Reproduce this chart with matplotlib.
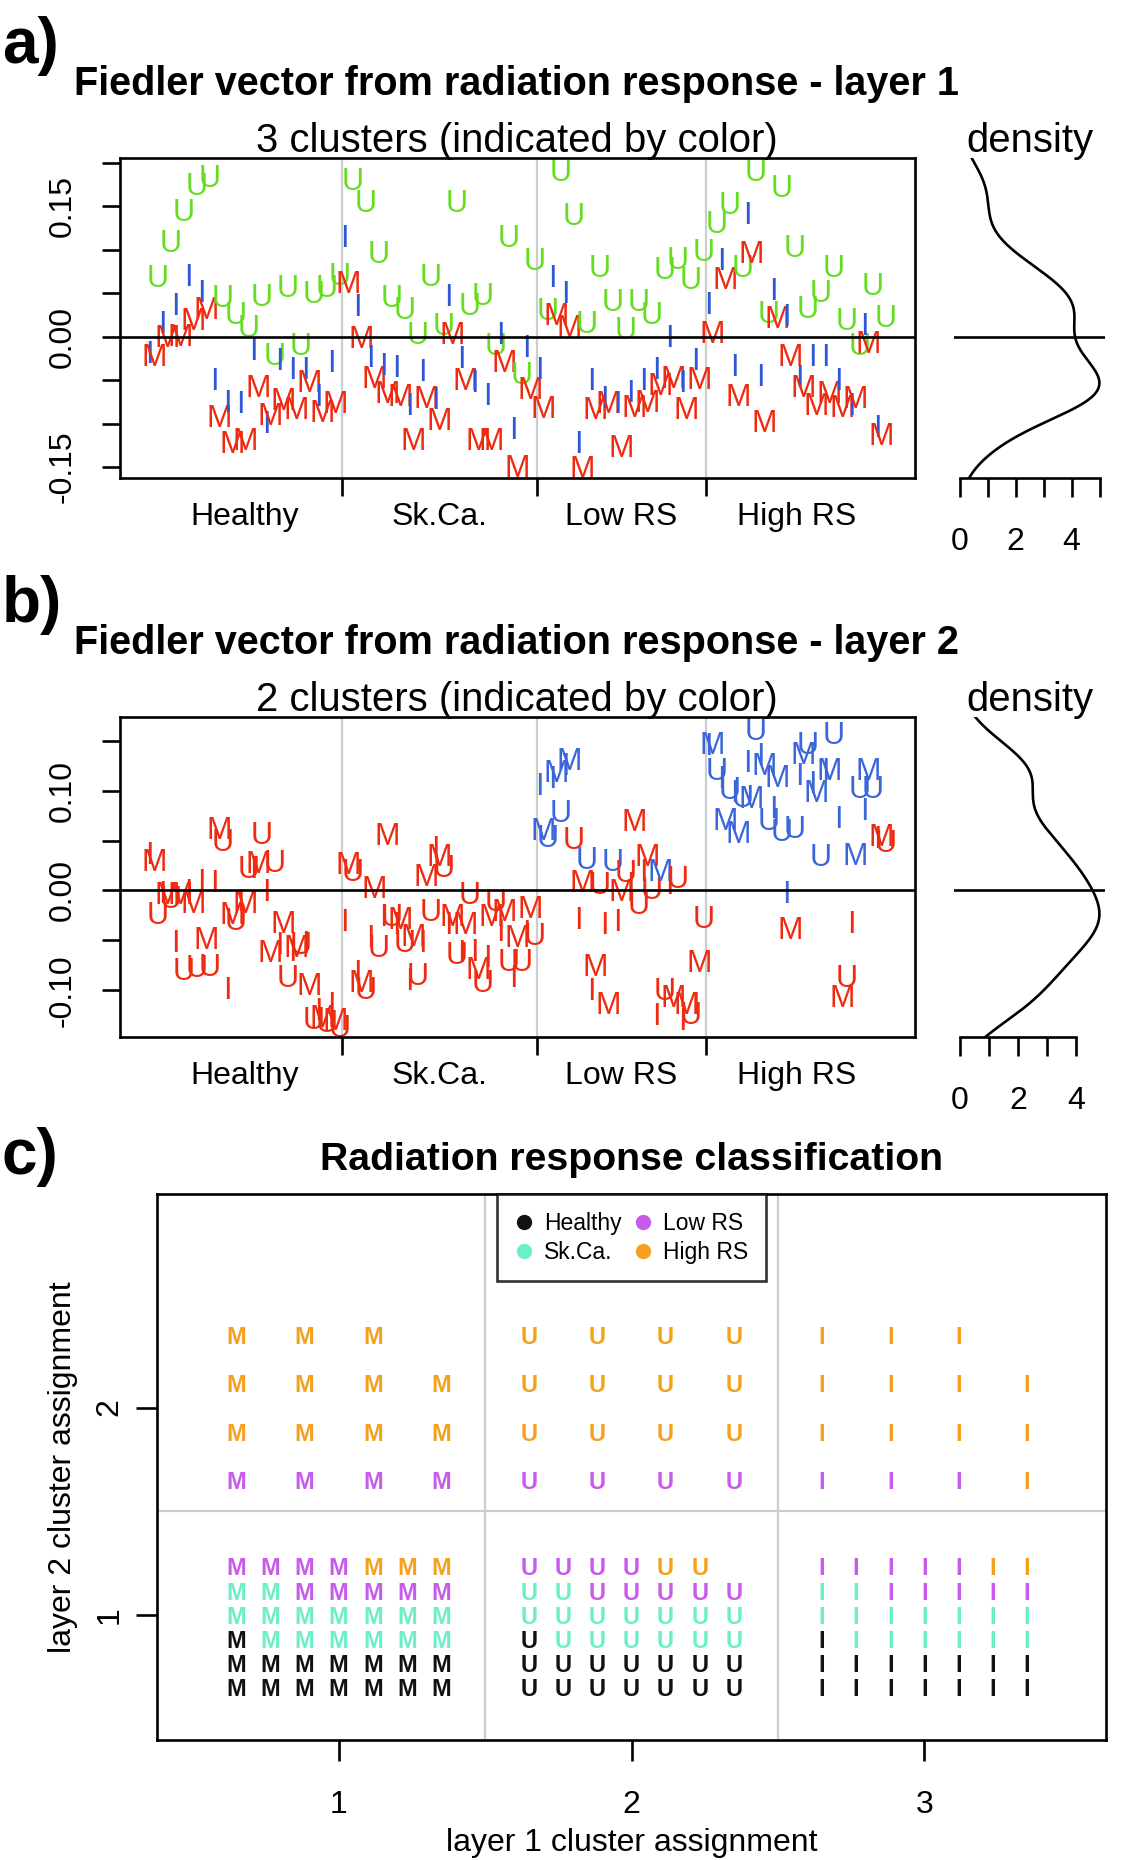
import numpy as np
import matplotlib
matplotlib.use("Agg")
import matplotlib.pyplot as plt
from matplotlib.lines import Line2D

plt.rcParams["font.family"] = ["Liberation Sans", "DejaVu Sans"]

# ---------------------------------------------------------------------------
# Data
# Samples are ordered by group, then individual, then treatment (I, M, U).
# ---------------------------------------------------------------------------

GROUPS = ["Healthy", "Sk.Ca.", "Low RS", "High RS"]
TREATMENTS = ["I", "M", "U"]

# Fiedler vector, layer 1
l1_healthy_i = [-0.017, 0.017, 0.038, 0.072, 0.053, -0.048, -0.074, -0.075, -0.014, -0.098, -0.025, -0.036, -0.035, -0.067, -0.027]
l1_healthy_m = [-0.020, 0.001, 0.002, 0.021, 0.034, -0.091, -0.121, -0.117, -0.056, -0.088, -0.071, -0.081, -0.050, -0.085, -0.075]
l1_healthy_u = [0.070, 0.111, 0.146, 0.176, 0.186, 0.047, 0.028, 0.013, 0.048, -0.019, 0.059, -0.008, 0.052, 0.059, 0.073]
l1_skca_i = [0.116, 0.037, -0.022, -0.031, -0.033, -0.077, -0.038, -0.070, 0.049, -0.023, -0.050, -0.065, 0.005, -0.105, -0.010]
l1_skca_m = [0.063, 0.000, -0.046, -0.063, -0.067, -0.117, -0.069, -0.094, 0.005, -0.048, -0.117, -0.117, -0.027, -0.148, -0.059]
l1_skca_u = [0.182, 0.157, 0.098, 0.047, 0.034, 0.005, 0.071, 0.015, 0.157, 0.038, 0.050, -0.008, 0.117, -0.041, 0.090]
l1_lowrs_i = [-0.036, 0.070, 0.052, -0.121, -0.048, -0.069, -0.075, -0.062, -0.048, -0.036, 0.001, -0.050, -0.025]
l1_lowrs_m = [-0.080, 0.027, 0.013, -0.149, -0.082, -0.075, -0.125, -0.079, -0.073, -0.054, -0.046, -0.082, -0.047]
l1_lowrs_u = [0.033, 0.192, 0.142, 0.017, 0.082, 0.043, 0.010, 0.043, 0.028, 0.080, 0.091, 0.068, 0.100]
l1_highrs_i = [0.039, 0.090, -0.032, 0.143, -0.044, 0.056, 0.026, -0.045, -0.021, -0.021, -0.048, -0.077, 0.015, -0.102]
l1_highrs_m = [0.006, 0.068, -0.066, 0.098, -0.096, 0.023, -0.020, -0.056, -0.077, -0.063, -0.079, -0.069, -0.006, -0.111]
l1_highrs_u = [0.132, 0.155, 0.082, 0.192, 0.029, 0.174, 0.105, 0.035, 0.053, 0.082, 0.021, -0.008, 0.061, 0.024]

# Fiedler vector, layer 2
l2_healthy_i = [0.038, -0.001, -0.050, 0.001, 0.011, 0.010, -0.097, -0.009, 0.024, 0.001, -0.052, -0.059, -0.051, -0.118, -0.112]
l2_healthy_m = [0.031, -0.002, -0.002, -0.011, -0.047, 0.063, -0.022, -0.011, 0.029, -0.060, -0.031, -0.055, -0.093, -0.125, -0.128]
l2_healthy_u = [-0.022, -0.006, -0.078, -0.075, -0.074, 0.051, -0.028, 0.024, 0.058, 0.030, -0.085, -0.052, -0.127, -0.130, -0.135]
l2_skca_i = [-0.029, -0.080, -0.045, -0.024, -0.032, -0.088, -0.050, 0.044, -0.032, -0.060, -0.059, -0.065, -0.039, -0.085, -0.040]
l2_skca_m = [0.028, -0.090, 0.004, 0.057, -0.027, -0.044, 0.016, 0.036, -0.024, -0.032, -0.077, -0.024, -0.019, -0.045, -0.016]
l2_skca_u = [0.021, -0.097, -0.055, -0.024, -0.050, -0.083, -0.019, 0.025, -0.062, -0.002, -0.090, -0.009, -0.069, -0.069, -0.043]
l2_lowrs_i = [0.107, 0.114, 0.127, -0.027, -0.098, -0.032, -0.029, 0.008, 0.021, -0.123, 0.008, -0.128, -0.112]
l2_lowrs_m = [0.062, 0.120, 0.132, 0.010, -0.074, -0.112, 0.001, 0.071, 0.036, 0.021, -0.105, -0.112, -0.070]
l2_lowrs_u = [0.055, 0.080, 0.053, 0.033, 0.008, 0.031, 0.020, -0.012, 0.003, -0.098, 0.014, -0.122, -0.026]
l2_highrs_i = [0.147, 0.114, 0.100, 0.130, 0.137, 0.084, -0.001, 0.117, 0.109, 0.122, 0.074, -0.031, 0.082, 0.054]
l2_highrs_m = [0.148, 0.072, 0.059, 0.094, 0.127, 0.115, -0.037, 0.138, 0.100, 0.122, -0.105, 0.037, 0.122, 0.056]
l2_highrs_u = [0.122, 0.103, 0.095, 0.162, 0.072, 0.061, 0.064, 0.148, 0.036, 0.158, -0.085, 0.104, 0.104, 0.050]

# Layer-2 cluster membership (2 = second cluster). Healthy and Sk.Ca. are all cluster 1.
l2cl_lowrs_i = [2, 2, 2, 1, 1, 1, 1, 1, 1, 1, 1, 1, 1]
l2cl_lowrs_m = [2, 2, 2, 1, 1, 1, 1, 1, 1, 2, 1, 1, 1]
l2cl_lowrs_u = [2, 2, 1, 2, 1, 2, 1, 1, 1, 1, 1, 1, 1]
l2cl_highrs_i = [2, 2, 2, 2, 2, 2, 2, 2, 2, 2, 2, 1, 2, 1]
l2cl_highrs_m = [2, 2, 2, 2, 2, 2, 1, 2, 2, 2, 1, 2, 2, 1]
l2cl_highrs_u = [2, 2, 2, 2, 2, 2, 2, 2, 2, 2, 1, 2, 2, 1]

# Layer-1 clusters coincide with treatment
L1_CLUSTER = {"M": 1, "U": 2, "I": 3}

L1_TICKS = [-0.15, -0.10, -0.05, 0.0, 0.05, 0.10, 0.15, 0.20]
L1_TICK_LABELS = ["-0.15", "", "", "0.00", "", "", "0.15", ""]
L2_TICKS = [-0.10, -0.05, 0.0, 0.05, 0.10, 0.15]
L2_TICK_LABELS = ["-0.10", "", "0.00", "", "0.10", ""]

L1_COLORS = {"I": "#2f56d6", "M": "#ee2a10", "U": "#66dd22"}
L2_COLORS = {1: "#ee2a10", 2: "#3a66da"}
GROUP_COLORS = ["#111111", "#6cefc9", "#c85bea", "#f3a11e"]
GREY = "#c9cfcf"
LW = 1.9


# ---------------------------------------------------------------------------
# Assemble per-sample arrays
# ---------------------------------------------------------------------------

def interleave(*lists):
    out = []
    for trip in zip(*lists):
        out.extend(trip)
    return out


l1_sets = [(l1_healthy_i, l1_healthy_m, l1_healthy_u), (l1_skca_i, l1_skca_m, l1_skca_u),
           (l1_lowrs_i, l1_lowrs_m, l1_lowrs_u), (l1_highrs_i, l1_highrs_m, l1_highrs_u)]
l2_sets = [(l2_healthy_i, l2_healthy_m, l2_healthy_u), (l2_skca_i, l2_skca_m, l2_skca_u),
           (l2_lowrs_i, l2_lowrs_m, l2_lowrs_u), (l2_highrs_i, l2_highrs_m, l2_highrs_u)]
cl_sets = [None, None, (l2cl_lowrs_i, l2cl_lowrs_m, l2cl_lowrs_u),
           (l2cl_highrs_i, l2cl_highrs_m, l2cl_highrs_u)]

vals1, vals2, treat, group, cl2 = [], [], [], [], []
for g, (s1, s2, sc) in enumerate(zip(l1_sets, l2_sets, cl_sets)):
    n_ind = len(s1[0])
    vals1 += interleave(*s1)
    vals2 += interleave(*s2)
    treat += TREATMENTS * n_ind
    group += [g] * (3 * n_ind)
    cl2 += interleave(*sc) if sc is not None else [1] * (3 * n_ind)

vals1 = np.array(vals1)
vals2 = np.array(vals2)
group = np.array(group)
sizes = np.bincount(group)
bounds = np.cumsum(sizes)[:-1] + 0.5
centers = np.cumsum(sizes) - (sizes - 1) / 2.0

# ---------------------------------------------------------------------------
# Figure
# ---------------------------------------------------------------------------

W, H = 1145, 1860
fig = plt.figure(figsize=(W / 100, H / 100), dpi=100)


def axes_px(x0, y0, x1, y1):
    return fig.add_axes([x0 / W, 1 - y1 / H, (x1 - x0) / W, (y1 - y0) / H])


def r_range(v):
    lo, hi = np.min(v), np.max(v)
    pad = 0.04 * (hi - lo)
    return lo - pad, hi + pad


def kde(x, n=512, cut=3):
    # gaussian kernel, bw.nrd0 as in R's density()
    x = np.asarray(x)
    iqr = np.subtract(*np.percentile(x, [75, 25]))
    bw = 0.9 * min(x.std(ddof=1), iqr / 1.34) * len(x) ** -0.2
    grid = np.linspace(x.min() - cut * bw, x.max() + cut * bw, n)
    z = (grid[:, None] - x[None, :]) / bw
    dens = np.exp(-0.5 * z ** 2).sum(axis=1) / (len(x) * bw * np.sqrt(2 * np.pi))
    return grid, dens


def fiedler_panel(top, vals, colors, ticks, tick_labels, letter, title, subtitle):
    ax = axes_px(120, top, 915, top + 320)
    n = len(vals)
    x = np.arange(1, n + 1)
    ax.set_xlim(1 - 0.04 * (n - 1), n + 0.04 * (n - 1))
    ylim = r_range(vals)
    ax.set_ylim(ylim)
    for b in bounds:
        ax.axvline(b, color=GREY, lw=1.6, zorder=0)
    for xi, yi, t, c in zip(x, vals, treat, colors):
        ax.text(xi, yi, t, color=c, fontsize=22, ha="center", va="center_baseline", zorder=2)
    ax.axhline(0, color="black", lw=LW, zorder=3)

    ax.set_xticks(bounds)
    ax.set_xticklabels([])
    ax.set_xticks(centers, minor=True)
    ax.set_xticklabels(GROUPS, minor=True, fontsize=23)
    ax.tick_params(axis="x", which="major", length=13, width=LW)
    ax.tick_params(axis="x", which="minor", length=0, pad=17.5)

    keep = [(t, l) for t, l in zip(ticks, tick_labels) if ylim[0] <= t <= ylim[1]]
    ax.set_yticks([t for t, _ in keep])
    ax.set_yticklabels([l for _, l in keep], rotation=90, va="center", fontsize=23)
    ax.tick_params(axis="y", length=13, width=LW, pad=17.5)
    for s in ax.spines.values():
        s.set_linewidth(LW)

    # density of the same values
    axd = axes_px(954, top, 1105, top + 320)
    grid, dens = kde(vals)
    axd.plot(dens, grid, color="black", lw=LW)
    r = dens.max() - dens.min()
    axd.set_xlim(dens.min() - 0.04 * r, dens.max() + 0.04 * r)
    axd.set_ylim(ylim)
    axd.axhline(0, color="black", lw=LW)
    dticks = np.arange(0, np.floor(dens.max() + 0.04 * r) + 1)
    axd.set_xticks(dticks)
    axd.set_xticklabels([f"{int(t)}" if t % 2 == 0 else "" for t in dticks], fontsize=23)
    axd.tick_params(axis="x", length=14, width=LW, pad=21)
    axd.set_yticks([])
    for side in ["top", "left", "right"]:
        axd.spines[side].set_visible(False)
    axd.spines["bottom"].set_bounds(0, dticks[-1])
    axd.spines["bottom"].set_linewidth(LW)

    fig.text(2 / W, 1 - (top - 95) / H, letter, fontsize=46, fontweight="bold",
             ha="left", va="baseline")
    fig.text(516 / W, 1 - (top - 63) / H, title, fontsize=28.5, fontweight="bold",
             ha="center", va="baseline")
    fig.text(517 / W, 1 - (top - 6) / H, subtitle, fontsize=28.9, ha="center", va="baseline")
    fig.text(1030 / W, 1 - (top - 6) / H, "density", fontsize=28.9, ha="center", va="baseline")


fiedler_panel(158, vals1, [L1_COLORS[t] for t in treat], L1_TICKS, L1_TICK_LABELS,
              "a)", "Fiedler vector from radiation response - layer 1",
              "3 clusters (indicated by color)")
fiedler_panel(717, vals2, [L2_COLORS[c] for c in cl2], L2_TICKS, L2_TICK_LABELS,
              "b)", "Fiedler vector from radiation response - layer 2",
              "2 clusters (indicated by color)")

# ---------------------------------------------------------------------------
# Panel c: layer 1 vs layer 2 cluster assignment
# ---------------------------------------------------------------------------

axc = axes_px(157, 1194, 1106, 1740)
axc.set_xlim(0.38, 3.62)
axc.set_ylim(0.396, 3.03)
axc.axvline(1.5, color=GREY, lw=1.6, zorder=0)
axc.axvline(2.5, color=GREY, lw=1.6, zorder=0)
axc.axhline(1.5, color=GREY, lw=1.6, zorder=0)

c1 = np.array([L1_CLUSTER[t] for t in treat])
c2 = np.array(cl2)
letters = np.array(treat)
for a in (1, 2, 3):
    for b in (1, 2):
        idx = np.where((c1 == a) & (c2 == b))[0]
        idx = idx[np.argsort(group[idx], kind="stable")]
        ncol = int(np.ceil(np.sqrt(len(idx))))
        step = 0.7 / (ncol - 1)
        for pos, s in enumerate(idx):
            row, col = divmod(pos, ncol)
            axc.text(a - 0.35 + col * step, b - 0.35 + row * step, letters[s],
                     color=GROUP_COLORS[group[s]], fontsize=17, fontweight="bold",
                     ha="center", va="center_baseline")

axc.set_xticks([1, 2, 3])
axc.set_yticks([1, 2])
axc.set_yticklabels(["1", "2"], rotation=90, va="center")
axc.tick_params(axis="x", length=15, width=LW, labelsize=23, pad=21)
axc.tick_params(axis="y", length=15, width=LW, labelsize=23, pad=8.5)
for s in axc.spines.values():
    s.set_linewidth(LW)

handles = [Line2D([], [], marker="o", ls="", color=c, markersize=10) for c in GROUP_COLORS]
leg = axc.legend(handles, GROUPS, loc="upper center", ncol=2, fontsize=16.5,
                 frameon=True, fancybox=False, borderaxespad=0, handlelength=0.8,
                 handletextpad=0.45, columnspacing=0.55, labelspacing=0.25, borderpad=0.78)
leg.get_frame().set_edgecolor("black")
leg.get_frame().set_linewidth(LW)

fig.text(2 / W, 1 - 1174 / H, "c)", fontsize=46, fontweight="bold", ha="left", va="baseline")
fig.text(632 / W, 1 - 1170 / H, "Radiation response classification", fontsize=28.3,
         fontweight="bold", ha="center", va="baseline")
fig.text(632 / W, 1 - 1851 / H, "layer 1 cluster assignment", fontsize=23,
         ha="center", va="baseline")
fig.text(71 / W, 1 - 1467 / H, "layer 2 cluster assignment", fontsize=23, rotation=90,
         rotation_mode="anchor", ha="center", va="baseline")

fig.savefig("out.png", dpi=100)
